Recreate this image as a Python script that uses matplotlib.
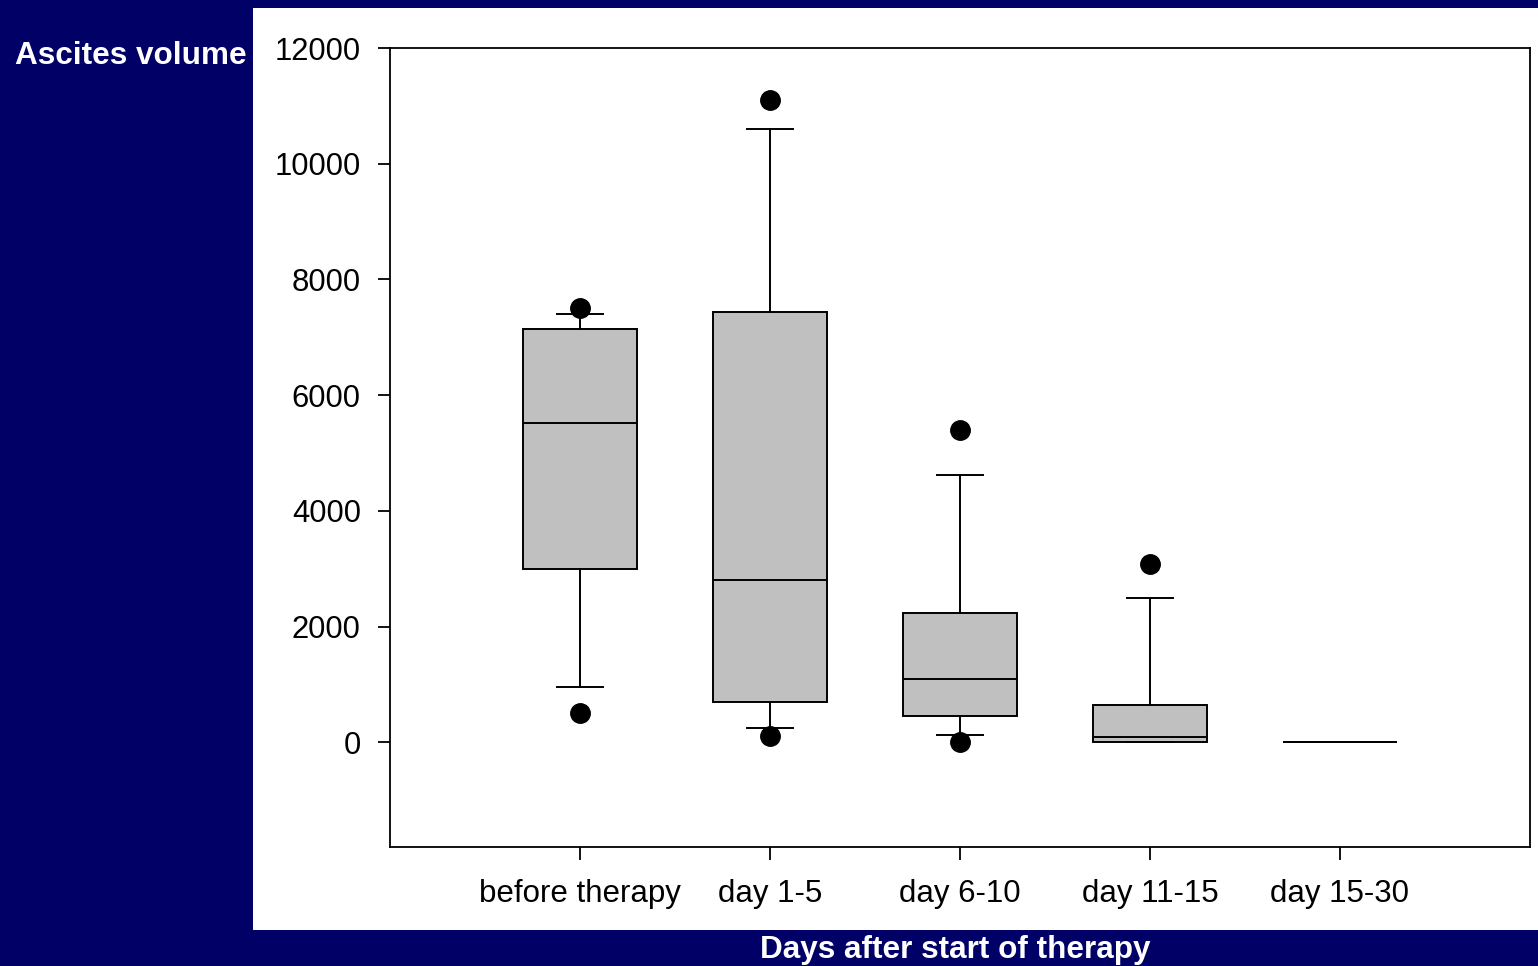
import matplotlib
matplotlib.use("Agg")
import matplotlib.pyplot as plt
from matplotlib.patches import Rectangle

plt.rcParams['font.family'] = ['Liberation Sans', 'DejaVu Sans']

categories = ["before therapy", "day 1-5", "day 6-10", "day 11-15", "day 15-30"]
q1 = [3000, 700, 450, 0, 0]
median = [5520, 2800, 1090, 90, 0]
q3 = [7150, 7440, 2230, 640, 0]
whislo = [950, 240, 120, 0, 0]
whishi = [7400, 10600, 4620, 2490, 0]
fliers = [[7500, 500], [11100, 100], [5400, 0], [3080], []]
yticks = [0, 2000, 4000, 6000, 8000, 10000, 12000]

navy = "#000066"
fig = plt.figure(figsize=(15.38, 9.66), dpi=100, facecolor=navy)
fig.patches.append(Rectangle((253/1538, 1-930/966), 1285/1538, 922/966,
                             transform=fig.transFigure, facecolor="white",
                             edgecolor="none", zorder=-5))
ax = fig.add_axes([390/1538, 1-847/966, 1140/1538, 799/966])
ax.set_zorder(5)
ax.set_facecolor("white")

stats = []
for i, c in enumerate(categories):
    stats.append(dict(label=c, q1=q1[i], med=median[i], q3=q3[i],
                      whislo=whislo[i], whishi=whishi[i], fliers=fliers[i]))
positions = list(range(1, len(categories) + 1))
ax.bxp(stats, positions=positions, widths=0.6, patch_artist=True,
       showfliers=True,
       boxprops=dict(facecolor="#c0c0c0", edgecolor="black", linewidth=1.4),
       medianprops=dict(color="black", linewidth=1.4),
       whiskerprops=dict(color="black", linewidth=1.4),
       capprops=dict(color="black", linewidth=1.4),
       capwidths=0.24,
       flierprops=dict(marker="o", markerfacecolor="black",
                       markeredgecolor="black", markersize=14))

ax.set_xlim(0, 6)
ax.set_ylim(-1810, 12000)
ax.set_xticks(positions)
ax.set_xticklabels(categories, fontsize=22.5)
ax.set_yticks(yticks)
ax.set_yticklabels([str(v) for v in yticks], fontsize=22.3)
ax.tick_params(axis="both", direction="out", length=9, width=1.3, colors="black")
ax.tick_params(axis="x", pad=14)
ax.tick_params(axis="y", pad=12)
for s in ax.spines.values():
    s.set_linewidth(1.3)
    s.set_color("black")

fig.text(131/1538, 1-56/966, "Ascites volume", color="white", fontsize=22.7,
         fontweight="bold", ha="center", va="center")
fig.text(955/1538, 1-950/966, "Days after start of therapy", color="white",
         fontsize=22.7, fontweight="bold", ha="center", va="center")

fig.savefig("out.png", dpi=100, facecolor=navy)
